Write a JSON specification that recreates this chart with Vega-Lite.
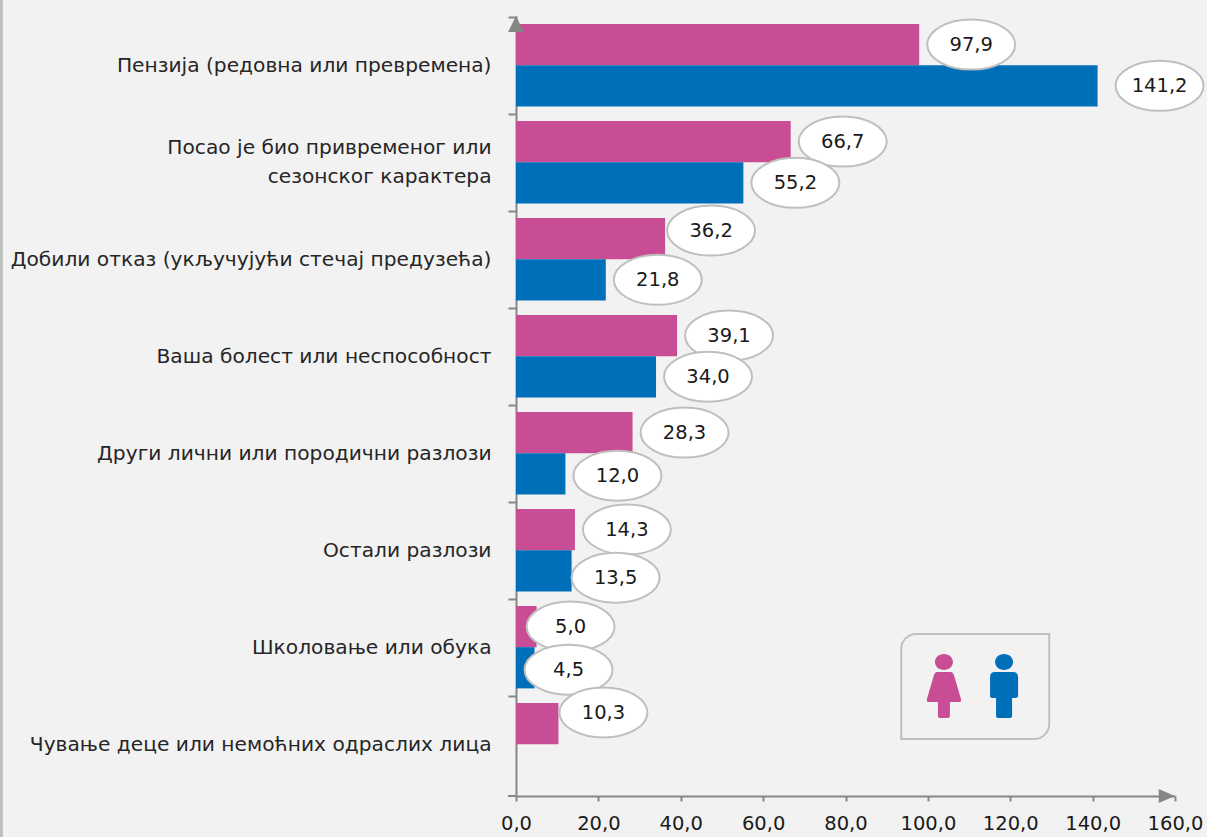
{
"$schema":"https://vega.github.io/schema/vega-lite/v6.json",
"width":659,"height":780,
"autosize":{"type":"none"},
"padding":{"left":516,"top":16,"right":32,"bottom":41},
"background":"#f2f2f2",
"config":{"view":{"stroke":null},"font":"DejaVu Sans"},
"datasets":{
"main":[
{"cat":"Пензија (редовна или превремена)","sex":"жене","value":97.9},
{"cat":"Пензија (редовна или превремена)","sex":"мушкарци","value":141.2},
{"cat":"Посао је био привременог или сезонског карактера","sex":"жене","value":66.7},
{"cat":"Посао је био привременог или сезонског карактера","sex":"мушкарци","value":55.2},
{"cat":"Добили отказ (укључујући стечај предузећа)","sex":"жене","value":36.2},
{"cat":"Добили отказ (укључујући стечај предузећа)","sex":"мушкарци","value":21.8},
{"cat":"Ваша болест или неспособност","sex":"жене","value":39.1},
{"cat":"Ваша болест или неспособност","sex":"мушкарци","value":34.0},
{"cat":"Други лични или породични разлози","sex":"жене","value":28.3},
{"cat":"Други лични или породични разлози","sex":"мушкарци","value":12.0},
{"cat":"Остали разлози","sex":"жене","value":14.3},
{"cat":"Остали разлози","sex":"мушкарци","value":13.5},
{"cat":"Школовање или обука","sex":"жене","value":5.0},
{"cat":"Школовање или обука","sex":"мушкарци","value":4.5},
{"cat":"Чување деце или немоћних одраслих лица","sex":"жене","value":10.3}
]},
"resolve":{"scale":{"y":"independent"}},
"layer":[
{"data":{"values":[{"x":-125.3,"y":-40,"y2":830}]},
 "mark":{"type":"rule","color":"#bfbfbf","strokeWidth":6,"clip":false},
 "encoding":{"x":{"field":"x","type":"quantitative","title":null,"scale":{"domain":[0,160],"nice":false},
   "axis":{"values":[0,20,40,60,80,100,120,140,160],"grid":false,"tickSize":5,"tickColor":"#868686","tickWidth":2,"domainColor":"#868686","domainWidth":2,"labelFontSize":19.5,"labelColor":"#1a1a1a","labelPadding":13,"labelFlush":false,
   "labelExpr":"replace(format(datum.value,'.1f'),'.',',')"}},
 "y":{"field":"y","type":"quantitative","scale":{"domain":[0,780],"reverse":true,"nice":false,"zero":false},"axis":null},
 "y2":{"field":"y2"}}},
{"data":{"name":"main"},
 "transform":[{"calculate":"replace(format(datum.value,'.1f'),'.',',')","as":"tekst"}],
 "encoding":{
  "y":{"field":"cat","type":"nominal","sort":null,"title":null,
   "scale":{"paddingInner":0.15,"paddingOuter":0.096,"align":0.43},
   "axis":{"tickOffset":-48.5,"labelOffset":{"condition":{"test":"indexof(datum.label,'Посао')==0","value":33.5},"value":48.5},"tickSize":8,"tickColor":"#868686","tickWidth":2,"domainColor":"#868686","domainWidth":2,"labelPadding":17,"labelFontSize":20.2,"labelColor":"#262626","labelLimit":520,"labelLineHeight":29,"labelBaseline":"middle",
   "labelExpr":"datum.label=='Посао је био привременог или сезонског карактера'?['Посао је био привременог или','сезонског карактера']:datum.label"}},
  "yOffset":{"field":"sex","type":"nominal","sort":["жене","мушкарци"],"scale":{"paddingInner":0,"paddingOuter":0}},
  "x":{"field":"value","type":"quantitative","title":null}
 },
 "layer":[
 {"mark":{"type":"bar"},
  "encoding":{"color":{"field":"sex","type":"nominal","legend":null,"scale":{"domain":["жене","мушкарци"],"range":["#c94d94","#006fba"]}}}},
 {"mark":{"type":"point","filled":true,"fill":"#ffffff","stroke":"#bfbfbf","strokeWidth":2,"opacity":1,"size":4,
   "shape":{"expr":"'M-44,'+(datum.value==36.2?-8:datum.value==10.3?-11:datum.value==13.5?7:datum.value==4.5||datum.value==12?2:0)+'A44,25,0,1,1,44,'+(datum.value==36.2?-8:datum.value==10.3?-11:datum.value==13.5?7:datum.value==4.5||datum.value==12?2:0)+'A44,25,0,1,1,-44,'+(datum.value==36.2?-8:datum.value==10.3?-11:datum.value==13.5?7:datum.value==4.5||datum.value==12?2:0)+'Z'"},
   "xOffset":{"expr":"datum.value>140?62:datum.value<6?34:datum.value==10.3?45:datum.value==13.5?44:datum.value==36.2?46:52"}}},
 {"mark":{"type":"text","fontSize":19.5,"color":"#1a1a1a",
   "xOffset":{"expr":"datum.value>140?62:datum.value<6?34:datum.value==10.3?45:datum.value==13.5?44:datum.value==36.2?46:52"},
   "dy":{"expr":"datum.value==36.2?-8:datum.value==10.3?-11:datum.value==13.5?7:datum.value==4.5||datum.value==12?2:0"}},
  "encoding":{"text":{"field":"tekst","type":"nominal"}}}
 ]},
{"data":{"values":[
 {"n":"box","x":111.5,"y":670.5},
 {"n":"ž","x":103.9,"y":674},
 {"n":"m","x":118.5,"y":674},
 {"n":"up","x":0,"y":8},
 {"n":"right","x":158,"y":780},
 {"n":"stub","x":-1,"y":780}
 ]},
 "encoding":{
  "x":{"field":"x","type":"quantitative","title":null},
  "y":{"field":"y","type":"quantitative","scale":{"domain":[0,780],"reverse":true,"nice":false,"zero":false},"axis":null}
 },
 "layer":[
 {"transform":[{"filter":"datum.n=='box'"}],"mark":{"type":"point","size":4,"stroke":"#bfbfbf","strokeWidth":2,"fill":null,"opacity":1,"shape":"M-74,-37.5A15,15,0,0,1,-59,-52.5L74,-52.5L74,37.5A15,15,0,0,1,59,52.5L-74,52.5Z"}},
 {"transform":[{"filter":"datum.n=='ž'"}],"mark":{"type":"point","size":4,"filled":true,"fill":"#c94d94","opacity":1,"strokeWidth":0,"shape":"M-9,-28A9,8,0,1,1,9,-28A9,8,0,1,1,-9,-28ZM-7,-18L7,-18Q9,-18 10,-15L17,9Q18,12 15,12L6,12L6,26Q6,28 4,28L-4,28Q-6,28 -6,26L-6,12L-15,12Q-18,12 -17,9L-10,-15Q-9,-18 -7,-18Z"}},
 {"transform":[{"filter":"datum.n=='m'"}],"mark":{"type":"point","size":4,"filled":true,"fill":"#006fba","opacity":1,"strokeWidth":0,"shape":"M-9,-28A9,8,0,1,1,9,-28A9,8,0,1,1,-9,-28ZM-9,-18L9,-18Q14,-18 14,-13L14,6Q14,8 11,8L8,8L8,26Q8,28 6,28L-6,28Q-8,28 -8,26L-8,8L-11,8Q-14,8 -14,6L-14,-13Q-14,-18 -9,-18Z"}},
 {"transform":[{"filter":"datum.n=='up'"}],"mark":{"type":"point","size":4,"filled":true,"fill":"#868686","opacity":1,"strokeWidth":0,"shape":"M-8,8L0,-8L8,8Z"}},
 {"transform":[{"filter":"datum.n=='right'"}],"mark":{"type":"point","size":4,"filled":true,"fill":"#868686","opacity":1,"strokeWidth":0,"shape":"M-8,-7L8,0L-8,7Z"}},
 {"transform":[{"filter":"datum.n=='stub'"}],"mark":{"type":"point","size":4,"filled":false,"stroke":"#868686","strokeWidth":2,"opacity":1,"shape":"M-4,0L4,0"}}
 ]}
]
}
